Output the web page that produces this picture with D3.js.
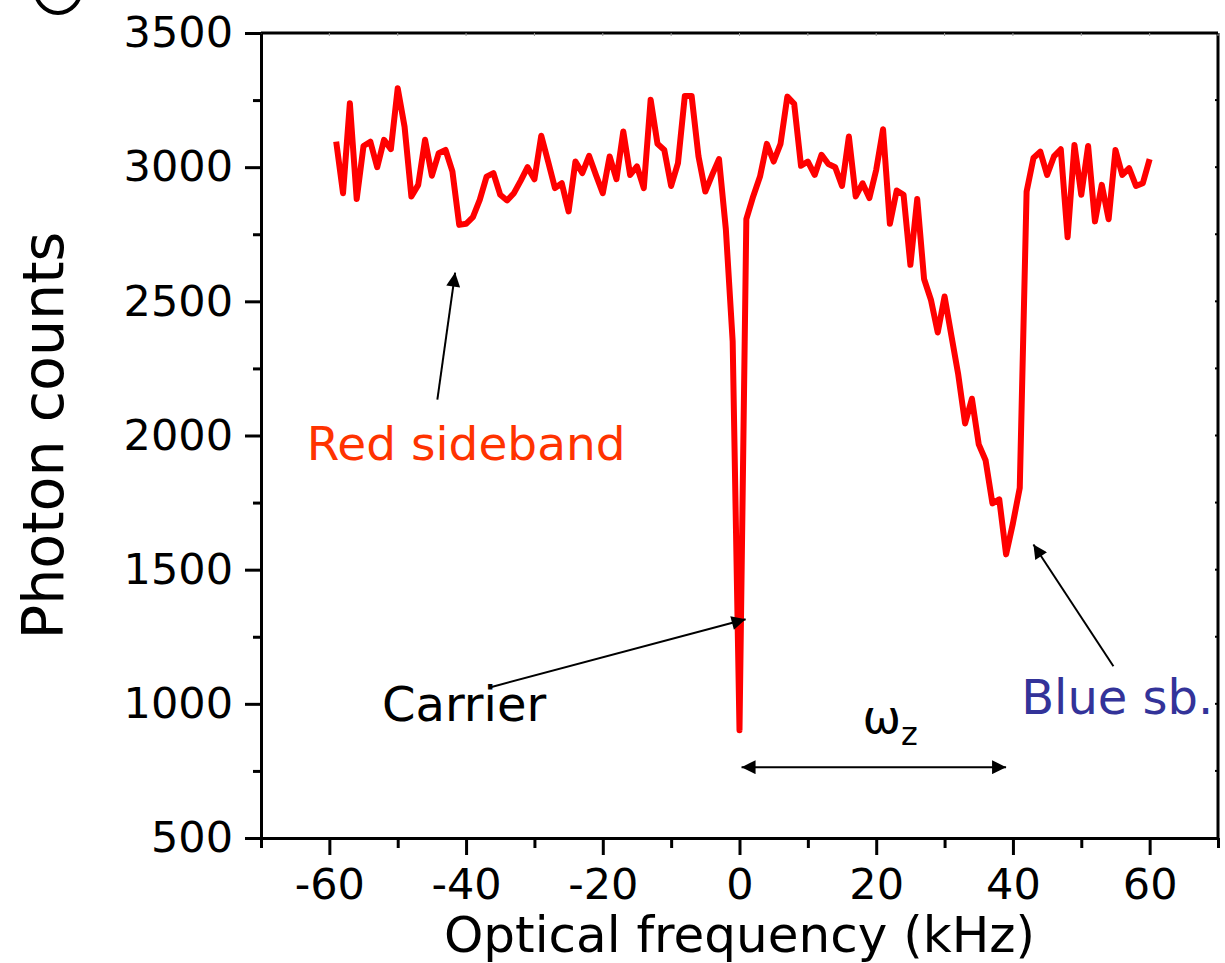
<!DOCTYPE html>
<html><head><meta charset="utf-8">
<script src="https://cdn.jsdelivr.net/npm/d3@7"></script>
<style>
html,body{margin:0;padding:0;background:#fff;}
svg{display:block;font-family:"DejaVu Sans",Verdana,sans-serif;}
</style></head>
<body>
<svg id="chart" width="1225" height="963"></svg>
<script>
// ---- data ----
const freqs = [-59,-58,-57,-56,-55,-54,-53,-52,-51,-50,-49,-48,-47,-46,-45,-44,-43,-42,-41,-40,
 -39,-38,-37,-36,-35,-34,-33,-32,-31,-30,-29,-28,-27,-26,-25,-24,-23,-22,-21,-20,
 -19,-18,-17,-16,-15,-14,-13,-12,-11,-10,-9,-8,-7,-6,-5,-4,-3,-2,-1,0,
 1,2,3,4,5,6,7,8,9,10,11,12,13,14,15,16,17,18,19,20,
 21,22,23,24,25,26,27,28,29,30,31,32,33,34,35,36,37,38,39,40,
 41,42,43,44,45,46,47,48,49,50,51,52,53,54,55,56,57,58,59,60];
const counts = [3095,2903,3238,2881,3079,3095,3000,3102,3067,3294,3151,2891,2934,3102,2968,3052,3064,2984,2785,2789,
 2814,2878,2965,2978,2897,2876,2903,2950,3000,2955,3117,3021,2922,2940,2835,3021,2978,3042,2971,2903,
 3040,2955,3133,2971,3003,2922,3251,3087,3064,2930,3015,3265,3265,3040,2909,2971,3030,2770,2351,902,
 2806,2891,2965,3087,3021,3087,3263,3236,3005,3021,2971,3046,3012,3000,2930,3114,2891,2940,2885,2990,
 3141,2789,2913,2897,2636,2881,2583,2506,2384,2518,2372,2227,2045,2137,1967,1908,1747,1762,1557,1673,
 1805,2909,3034,3058,2971,3040,3067,2739,3083,2897,3079,2798,2934,2806,3064,2971,2996,2930,2940,3030];
const xDomain = [-70, 70];
const yDomain = [500, 3500];
const xTickValues = [-60,-40,-20,0,20,40,60];
const xMinorTicks = [-70,-50,-30,-10,10,30,50,70];
const yTickValues = [500,1000,1500,2000,2500,3000,3500];
const yMinorTicks = [750,1250,1750,2250,2750,3250];
const xTitle = "Optical frequency (kHz)";
const yTitle = "Photon counts";
// annotations (data coordinates)
const annTexts = ["Red sideband","Carrier","Blue sb."];
const annTextPos = [[-63.3,1910],[-52.3,935],[41.2,961]];
const annSizes = [47,48,48];
const annColors = ["#ff3300","#000000","#333399"];
const arrowFrom = [[-44.2,2134],[-36.4,1062],[54.7,1140]];
const arrowTo = [[-41.6,2607],[0.9,1315],[43.0,1594]];
const omegaSpan = [0.3, 39.0];
const omegaLevel = 764;

// ---- layout ----
const L = 261, R = 1218, T = 33, B = 838;
const svg = d3.select("#chart");
const x = d3.scaleLinear().domain(xDomain).range([L, R]);
const y = d3.scaleLinear().domain(yDomain).range([B, T]);

const defs = svg.append("defs");
defs.append("marker").attr("id","ah").attr("viewBox","0 0 10 10")
  .attr("refX",10).attr("refY",5).attr("markerWidth",17).attr("markerHeight",14)
  .attr("markerUnits","userSpaceOnUse").attr("orient","auto-start-reverse")
  .append("path").attr("d","M0,0 L10,5 L0,10 Z").attr("fill","#000");

// panel label remnant
svg.append("ellipse").attr("cx",58).attr("cy",-12).attr("rx",23).attr("ry",25)
  .attr("fill","none").attr("stroke","#000").attr("stroke-width",4);

// frame (top and right)
svg.append("line").attr("x1",L).attr("x2",R).attr("y1",T).attr("y2",T).attr("stroke","#000").attr("stroke-width",3);
svg.append("line").attr("x1",R).attr("x2",R).attr("y1",T).attr("y2",B).attr("stroke","#000").attr("stroke-width",3);
svg.append("g").selectAll("line").data(xTickValues.concat(xMinorTicks)).join("line")
  .attr("x1",d=>x(d)).attr("x2",d=>x(d)).attr("y1",T).attr("y2",T+3).attr("stroke","#999").attr("stroke-width",1);
svg.append("g").selectAll("line").data(yTickValues.concat(yMinorTicks)).join("line")
  .attr("x1",R-3).attr("x2",R).attr("y1",d=>y(d)).attr("y2",d=>y(d)).attr("stroke","#000").attr("stroke-width",2);

const fmt = d => String(d);

// bottom axis
const gx = svg.append("g").attr("transform",`translate(0,${B})`)
  .call(d3.axisBottom(x).tickValues(xTickValues).tickSize(17).tickSizeOuter(0).tickPadding(13).tickFormat(fmt));
gx.select(".domain").attr("stroke-width",3);
gx.selectAll(".tick line").attr("stroke-width",3);
gx.selectAll("text").attr("font-size",43).attr("font-family","DejaVu Sans").attr("fill","#000");
svg.append("g").attr("transform",`translate(0,${B})`)
  .call(d3.axisBottom(x).tickValues(xMinorTicks).tickSize(10).tickFormat(""))
  .call(g=>g.select(".domain").remove())
  .selectAll(".tick line").attr("stroke-width",3);

// left axis
const gy = svg.append("g").attr("transform",`translate(${L},0)`)
  .call(d3.axisLeft(y).tickValues(yTickValues).tickSize(16).tickSizeOuter(0).tickPadding(12).tickFormat(fmt));
gy.select(".domain").attr("stroke-width",3);
gy.selectAll(".tick line").attr("stroke-width",3);
gy.selectAll("text").attr("font-size",43).attr("font-family","DejaVu Sans").attr("fill","#000");
svg.append("g").attr("transform",`translate(${L},0)`)
  .call(d3.axisLeft(y).tickValues(yMinorTicks).tickSize(8).tickFormat(""))
  .call(g=>g.select(".domain").remove())
  .selectAll(".tick line").attr("stroke-width",3);

// axis titles
svg.append("text").attr("x",x(0)).attr("y",952).attr("text-anchor","middle")
  .attr("font-size",50).text(xTitle);
svg.append("text").attr("transform",`translate(63,${(T+B)/2})rotate(-90)`).attr("text-anchor","middle")
  .attr("font-size",57).text(yTitle);

// data line
const line = d3.line().x((d,i)=>x(freqs[i])).y(d=>y(d));
svg.append("path").datum(counts).attr("d",line).attr("fill","none")
  .attr("stroke","#ff0000").attr("stroke-width",6).attr("stroke-linejoin","round");

// annotation arrows
svg.append("g").selectAll("line").data(arrowFrom).join("line")
  .attr("x1",d=>x(d[0])).attr("y1",d=>y(d[1]))
  .attr("x2",(d,i)=>x(arrowTo[i][0])).attr("y2",(d,i)=>y(arrowTo[i][1]))
  .attr("stroke","#000").attr("stroke-width",2).attr("marker-end","url(#ah)");

// annotation texts
svg.append("g").selectAll("text").data(annTexts).join("text")
  .attr("x",(d,i)=>x(annTextPos[i][0])).attr("y",(d,i)=>y(annTextPos[i][1]))
  .attr("fill",(d,i)=>annColors[i]).attr("font-size",(d,i)=>annSizes[i]).text(d=>d);

// omega_z double arrow
svg.append("line").attr("x1",x(omegaSpan[0])).attr("x2",x(omegaSpan[1]))
  .attr("y1",y(omegaLevel)).attr("y2",y(omegaLevel)).attr("stroke","#000").attr("stroke-width",2)
  .attr("marker-start","url(#ah)").attr("marker-end","url(#ah)");
const om = svg.append("text").attr("x",x(18)).attr("y",y(890)).attr("font-size",46).attr("fill","#000");
om.append("tspan").text("ω");
om.append("tspan").attr("font-size",32).attr("dy",12).text("z");
</script>
</body></html>
